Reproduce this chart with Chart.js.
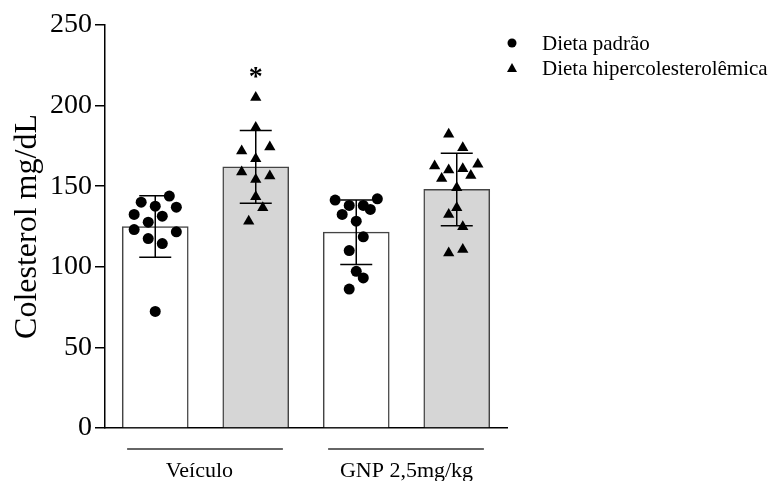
<!DOCTYPE html>
<html>
<head>
<meta charset="utf-8">
<script src="https://cdn.jsdelivr.net/npm/chart.js@4.4.1/dist/chart.umd.min.js"></script>
<style>
  html, body { margin: 0; padding: 0; background: #fff; }
  #wrap { width: 774px; height: 481px; position: relative; }
</style>
</head>
<body>
<div id="wrap"><canvas id="chart"></canvas></div>
<script>
// Groups and bar categories
const groups = ['Veículo', 'GNP 2,5mg/kg'];
const groupCenters = [0.94, 3.0];
const seriesNames = ['Dieta padrão', 'Dieta hipercolesterolêmica'];
const barSlots = [0.5, 1.5, 2.5, 3.5];
const barMeans = [125, 162, 121.5, 148];
const barSD = [19, 22.5, 20, 22.5];
const signif = ['', '*', '', ''];
const yTicks = [0, 50, 100, 150, 200, 250];

// Individual animals (value, jitter in slot units)
const veiculoPadrao = [143.9, 140.1, 137.6, 137.0, 132.5, 131.4, 127.7, 123.1, 121.7, 117.5, 114.4, 72.3];
const veiculoPadraoJit = [0.14, -0.14, 0, 0.21, -0.21, 0.07, -0.07, -0.21, 0.21, -0.07, 0.07, 0];
const veiculoHiper = [205.0, 186.4, 174.3, 171.8, 167.1, 158.8, 156.3, 154.2, 143.5, 136.6, 128.3];
const veiculoHiperJit = [0, 0, 0.14, -0.14, 0, -0.14, 0.14, 0, 0, 0.07, -0.07];
const gnpPadrao = [142.2, 141.4, 138.1, 138.1, 135.6, 132.5, 128.3, 118.6, 110.1, 97.2, 93.1, 86.2];
const gnpPadraoJit = [0.21, -0.21, -0.07, 0.07, 0.14, -0.14, 0, 0.07, -0.07, 0, 0.07, -0.07];
const gnpHiper = [182.2, 173.9, 163.6, 162.5, 160.9, 160.0, 156.7, 154.7, 149.1, 136.6, 132.5, 124.8, 110.7, 108.6];
const gnpHiperJit = [-0.08, 0.06, 0.21, -0.22, 0.06, -0.08, 0.14, -0.15, 0, 0, -0.08, 0.06, 0.06, -0.08];

const SERIF = "'Liberation Serif', 'Times New Roman', serif";

function toPoints(vals, jit, slot) {
    return vals.map((v, i) => ({ x: slot + jit[i], y: v }));
}

const errorBars = {
    id: 'errorBars',
    afterDatasetDraw(chart, args) {
        if (args.index !== 0) return;
        const { ctx, scales: { x, y } } = chart;
        ctx.save();
        ctx.strokeStyle = '#000';
        ctx.lineWidth = 1.5;
        barSlots.forEach((s, i) => {
            const px = x.getPixelForValue(s);
            const top = y.getPixelForValue(barMeans[i] + barSD[i]);
            const bot = y.getPixelForValue(barMeans[i] - barSD[i]);
            ctx.beginPath();
            ctx.moveTo(px, top); ctx.lineTo(px, bot);
            ctx.moveTo(px - 16, top); ctx.lineTo(px + 16, top);
            ctx.moveTo(px - 16, bot); ctx.lineTo(px + 16, bot);
            ctx.stroke();
        });
        ctx.restore();
    }
};

const extras = {
    id: 'extras',
    afterDraw(chart) {
        const { ctx, chartArea, scales: { x, y } } = chart;
        ctx.save();
        ctx.fillStyle = '#000';
        ctx.strokeStyle = '#333';
        // significance marks
        ctx.font = 'bold 28px ' + SERIF;
        ctx.textAlign = 'center';
        ctx.textBaseline = 'middle';
        signif.forEach((s, i) => {
            if (s) ctx.fillText(s, x.getPixelForValue(barSlots[i]), y.getPixelForValue(217));
        });
        // group lines and labels
        ctx.lineWidth = 1.5;
        ctx.font = '22px ' + SERIF;
        ctx.textBaseline = 'alphabetic';
        groups.forEach((g, i) => {
            const x0 = x.getPixelForValue(i * 2 + 0.22);
            const x1 = x.getPixelForValue(i * 2 + 1.77);
            const ly = chartArea.bottom + 21;
            ctx.beginPath();
            ctx.moveTo(x0, ly); ctx.lineTo(x1, ly);
            ctx.stroke();
            ctx.fillText(g, x.getPixelForValue(groupCenters[i]), chartArea.bottom + 49);
        });
        // legend
        ctx.textAlign = 'left';
        ctx.textBaseline = 'middle';
        ctx.font = '21px ' + SERIF;
        const lx = chartArea.right + 5;
        seriesNames.forEach((name, i) => {
            const ly = 43 + i * 25;
            ctx.beginPath();
            if (i === 0) {
                ctx.arc(lx, ly, 4.5, 0, Math.PI * 2);
            } else {
                ctx.moveTo(lx, ly - 5); ctx.lineTo(lx + 5, ly + 4); ctx.lineTo(lx - 5, ly + 4);
                ctx.closePath();
            }
            ctx.fill();
            ctx.fillText(name, lx + 30, ly + 1);
        });
        ctx.restore();
    }
};

new Chart(document.getElementById('chart'), {
    data: {
        datasets: [
            {
                type: 'bar',
                data: barSlots.map((s, i) => ({ x: s, y: barMeans[i] })),
                backgroundColor: ['#ffffff', '#d6d6d6', '#ffffff', '#d6d6d6'],
                borderColor: '#444',
                borderWidth: 1.5,
                barThickness: 66,
                order: 2,
            },
            {
                type: 'scatter',
                label: seriesNames[0],
                data: toPoints(veiculoPadrao, veiculoPadraoJit, barSlots[0])
                    .concat(toPoints(gnpPadrao, gnpPadraoJit, barSlots[2])),
                pointStyle: 'circle',
                pointRadius: 5.5,
                backgroundColor: '#000',
                borderColor: '#000',
                borderWidth: 0,
                order: 1,
            },
            {
                type: 'scatter',
                label: seriesNames[1],
                data: toPoints(veiculoHiper, veiculoHiperJit, barSlots[1])
                    .concat(toPoints(gnpHiper, gnpHiperJit, barSlots[3])),
                pointStyle: 'triangle',
                pointRadius: 6.5,
                backgroundColor: '#000',
                borderColor: '#000',
                borderWidth: 0,
                order: 1,
            },
        ],
    },
    options: {
        animation: false,
        responsive: true,
        maintainAspectRatio: false,
        layout: { padding: { top: 25, right: 267, bottom: 0, left: 0 } },
        plugins: {
            legend: { display: false },
            tooltip: { enabled: false },
        },
        scales: {
            x: {
                type: 'linear',
                min: 0,
                max: 4,
                offset: false,
                grid: { display: false },
                border: { color: '#000', width: 1.5 },
                ticks: { display: false },
                afterFit: (scale) => { scale.height = 53; },
            },
            y: {
                min: 0,
                max: 250,
                afterBuildTicks: (scale) => { scale.ticks = yTicks.map(v => ({ value: v })); },
                grid: { drawOnChartArea: false, color: '#000', tickLength: 10, lineWidth: 1.5 },
                border: { color: '#000', width: 1.5 },
                ticks: {
                    color: '#000',
                    padding: 3,
                    font: { family: SERIF, size: 28 },
                },
                title: {
                    display: true,
                    text: 'Colesterol mg/dL',
                    color: '#000',
                    font: { family: SERIF, size: 32 },
                    padding: { top: 8, bottom: 0 },
                },
                afterFit: (scale) => { scale.width = 105; },
            },
        },
    },
    plugins: [errorBars, extras],
});
</script>
</body>
</html>
